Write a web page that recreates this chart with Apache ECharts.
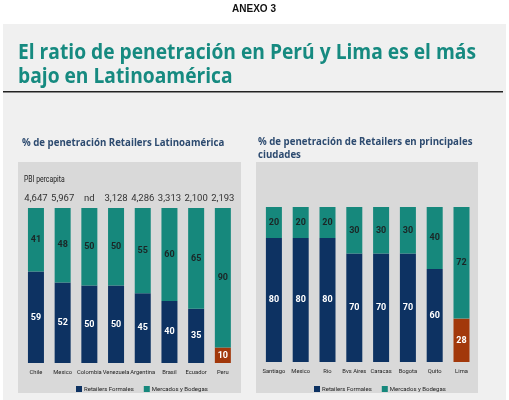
<!DOCTYPE html>
<html lang="es" style="height: 100%">
<head>
  <meta charset="utf-8">
</head>
<body style="height: 100%; margin: 0; background: #ffffff">
  <div id="container" style="width: 509px; height: 400px"></div>
  <script type="text/javascript" src="https://fastly.jsdelivr.net/npm/echarts@6.0.0/dist/echarts.min.js"></script>
  <script type="text/javascript">
    // datos
    var paises = ['Chile', 'Mexico', 'Colombia', 'Venezuela', 'Argentina', 'Brasil', 'Ecuador', 'Peru'];
    var pbiPercapita = ['4,647', '5,967', 'nd', '3,128', '4,286', '3,313', '2,100', '2,193'];
    var formalesPais = [59, 52, 50, 50, 45, 40, 35, 10];
    var mercadosPais = [41, 48, 50, 50, 55, 60, 65, 90];

    var ciudades = ['Santiago', 'Mexico', 'Rio', 'Bvs Aires', 'Caracas', 'Bogota', 'Quito', 'Lima'];
    var formalesCiudad = [80, 80, 80, 70, 70, 70, 60, 28];
    var mercadosCiudad = [20, 20, 20, 30, 30, 30, 40, 72];

    var destacados = ['Peru', 'Lima'];

    var navy = '#0d3262';
    var teal = '#16887c';
    var naranja = '#a2380b';
    var tituloColor = '#168a80';
    var subColor = '#2c4a6f';

    var myChart = echarts.init(document.getElementById('container'));

    // pinta en naranja la barra del pais / ciudad destacada
    var formalesData = function(cats, values)
    {
        return values.map(function(v, i)
        {
            if(destacados.indexOf(cats[i]) >= 0)
            {
                return {value: v, itemStyle: {color: naranja}};
            }
            return v;
        });
    };

    var insideLabel = function(color)
    {
        return {
            show: true,
            position: 'inside',
            color: color,
            fontFamily: 'Roboto',
            fontWeight: 'bold',
            fontSize: 9
        };
    };

    var catAxis = function(gridIndex, cats)
    {
        return {
            type: 'category',
            gridIndex: gridIndex,
            data: cats,
            axisLine: {show: false},
            axisTick: {show: false},
            axisLabel: {
                color: '#222',
                fontFamily: 'Roboto',
                fontSize: 5.8,
                margin: 7,
                interval: 0
            }
        };
    };

    var valAxis = function(gridIndex)
    {
        return {
            type: 'value',
            gridIndex: gridIndex,
            min: 0,
            max: 100,
            show: false
        };
    };

    var legend = function(left)
    {
        return {
            left: left,
            top: 381,
            itemWidth: 6,
            itemHeight: 6,
            itemGap: 10,
            icon: 'rect',
            textStyle: {fontFamily: 'Roboto', fontSize: 6, color: '#222', padding: [0, 0, 0, -3]},
            data: ['Retailers Formales', 'Mercados y Bodegas']
        };
    };

    var texto = function(x, y, str, font, fill, sx)
    {
        return {
            type: 'text', x: x, y: y, scaleX: sx || 1,
            style: {text: str, fill: fill, font: font, verticalAlign: 'middle'}
        };
    };

    var option =
    {
        animation: false,
        graphic:
        [
            {type: 'rect', shape: {x: 3, y: 24, width: 503, height: 376}, style: {fill: '#f0f0f0'}, z: -10},
            {type: 'text', x: 254, y: 9, style: {text: 'ANEXO 3', fill: '#111', font: "bold 10px 'Liberation Sans', sans-serif", align: 'center', verticalAlign: 'middle'}},
            texto(18, 53, 'El ratio de penetración en Perú y Lima es el más', "bold 21px 'Open Sans', sans-serif", tituloColor, 0.915),
            texto(18, 77, 'bajo en Latinoamérica', "bold 21px 'Open Sans', sans-serif", tituloColor, 0.915),
            {type: 'rect', shape: {x: 3, y: 91, width: 500, height: 1.5}, style: {fill: '#222'}},
            texto(22, 143, '% de penetración Retailers Latinoamérica', "bold 11px 'Open Sans', sans-serif", subColor, 0.88),
            texto(258, 142, '% de penetración de Retailers en principales', "bold 11px 'Open Sans', sans-serif", subColor, 0.88),
            texto(258, 155, 'ciudades', "bold 11px 'Open Sans', sans-serif", subColor, 0.88),
            {type: 'rect', shape: {x: 18, y: 162, width: 223, height: 231}, style: {fill: '#d9d9d9'}, z: -5},
            {type: 'rect', shape: {x: 256, y: 162, width: 222, height: 231}, style: {fill: '#d9d9d9'}, z: -5},
            texto(24, 180, 'PBI percapita', "9.5px 'Roboto'", '#222', 0.72)
        ],
        legend: [legend(71), legend(309)],
        grid:
        [
            {left: 22.6, top: 208, width: 213.6, height: 155},
            {left: 260.5, top: 207, width: 214.4, height: 155}
        ],
        xAxis: [catAxis(0, paises), catAxis(1, ciudades)],
        yAxis: [valAxis(0), valAxis(1)],
        series:
        [
            {
                name: 'Retailers Formales',
                type: 'bar',
                stack: 'pais',
                xAxisIndex: 0,
                yAxisIndex: 0,
                barWidth: 16,
                itemStyle: {color: navy},
                label: insideLabel('#fff'),
                data: formalesData(paises, formalesPais)
            },
            {
                name: 'Mercados y Bodegas',
                type: 'bar',
                stack: 'pais',
                xAxisIndex: 0,
                yAxisIndex: 0,
                barWidth: 16,
                itemStyle: {color: teal},
                label: insideLabel('#1b2626'),
                data: mercadosPais
            },
            {
                // etiquetas de PBI per capita sobre cada barra
                name: 'pbi',
                type: 'bar',
                stack: 'pais',
                xAxisIndex: 0,
                yAxisIndex: 0,
                barWidth: 16,
                silent: true,
                itemStyle: {color: 'transparent'},
                label: {
                    show: true,
                    position: 'top',
                    distance: 4,
                    color: '#333',
                    fontFamily: 'Roboto',
                    fontSize: 9.5,
                    formatter: function(p)
                    {
                        return pbiPercapita[p.dataIndex];
                    }
                },
                data: paises.map(function() { return 0; })
            },
            {
                name: 'Retailers Formales',
                type: 'bar',
                stack: 'ciudad',
                xAxisIndex: 1,
                yAxisIndex: 1,
                barWidth: 16,
                itemStyle: {color: navy},
                label: insideLabel('#fff'),
                data: formalesData(ciudades, formalesCiudad)
            },
            {
                name: 'Mercados y Bodegas',
                type: 'bar',
                stack: 'ciudad',
                xAxisIndex: 1,
                yAxisIndex: 1,
                barWidth: 16,
                itemStyle: {color: teal},
                label: insideLabel('#1b2626'),
                data: mercadosCiudad
            }
        ]
    };

    myChart.setOption(option);
  </script>
</body>
</html>
